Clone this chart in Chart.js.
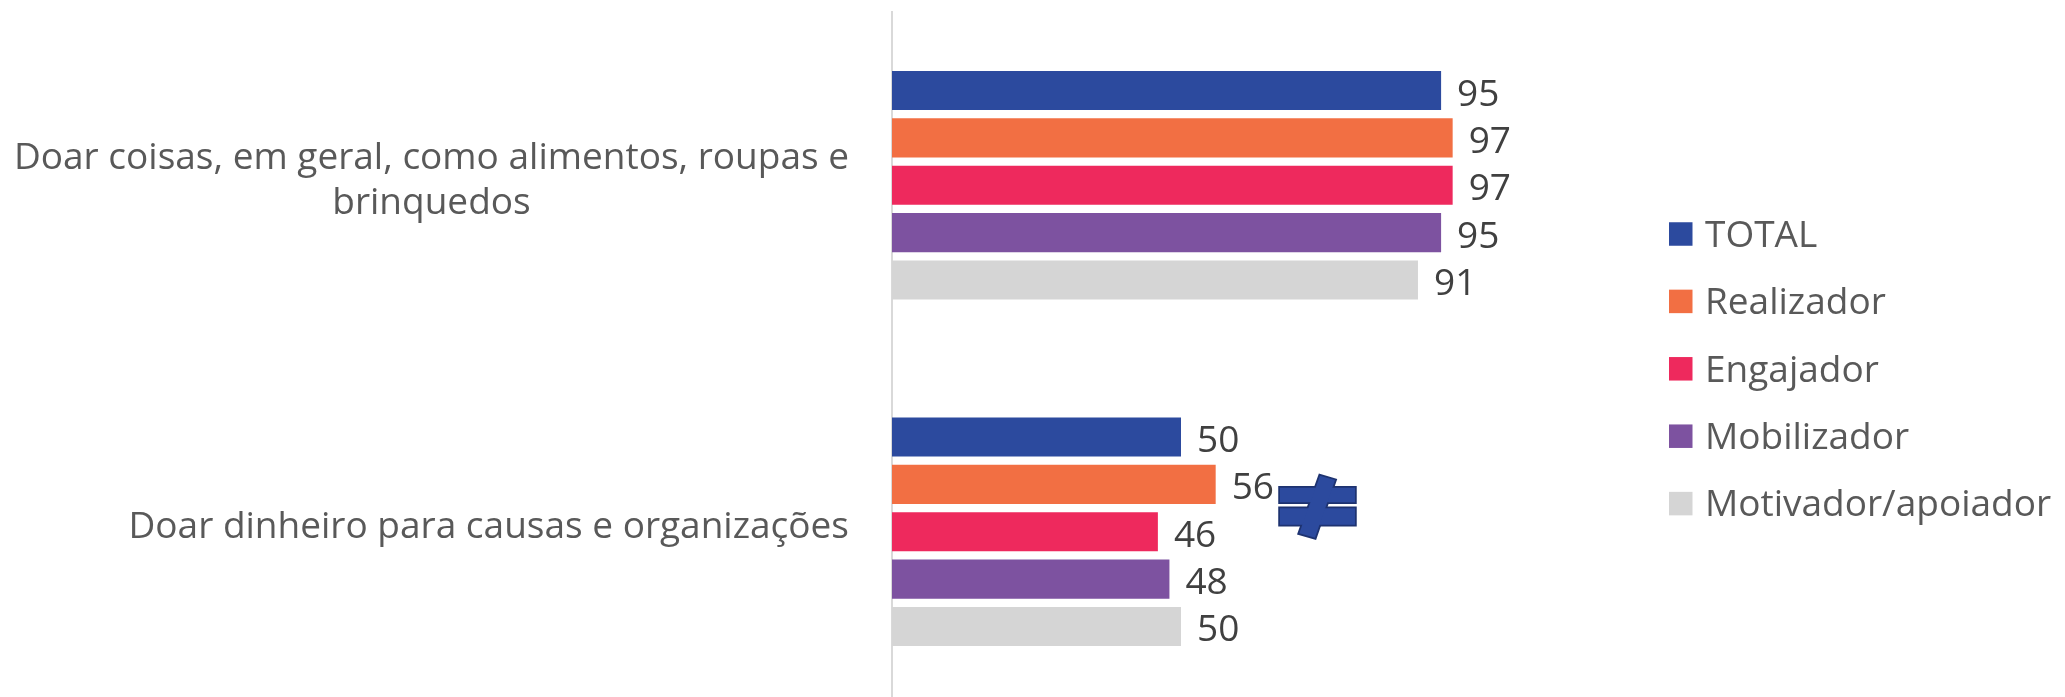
<!DOCTYPE html>
<html>
<head>
<meta charset="utf-8">
<title>Doações</title>
<script src="https://cdn.jsdelivr.net/npm/chart.js@4.4.1/dist/chart.umd.min.js"></script>
<style>
  html, body { margin: 0; padding: 0; background: #ffffff; overflow: hidden; }
  #wrap { position: absolute; left: 0; top: 0; width: 2065px; height: 710px; }
</style>
</head>
<body>
<div id="wrap"><canvas id="chart" width="2065" height="710"></canvas></div>
<script>
// Categories (first one wraps onto two lines)
const categories = [
  ['Doar coisas, em geral, como alimentos, roupas e', 'brinquedos'],
  'Doar dinheiro para causas e organizações'
];

// Series
const seriesNames = ['TOTAL', 'Realizador', 'Engajador', 'Mobilizador', 'Motivador/apoiador'];
const totalValues       = [95, 50];
const realizadorValues  = [97, 56];
const engajadorValues   = [97, 46];
const mobilizadorValues = [95, 48];
const motivadorValues   = [91, 50];

const seriesValues = [totalValues, realizadorValues, engajadorValues, mobilizadorValues, motivadorValues];
const seriesColors = ['#2C4A9E', '#F26F43', '#EE295D', '#7D52A0', '#D5D5D5'];

const FONT_FAMILY = '"Open Sans", Lato, sans-serif';
const TEXT_SIZE = 37;

// Value labels, category labels, legend and the "not equal" mark
const decorations = {
  id: 'decorations',
  afterDatasetsDraw(chart) {
    const ctx = chart.ctx;
    const xs = chart.scales.x;
    const ys = chart.scales.y;
    const area = chart.chartArea;
    ctx.save();
    ctx.font = TEXT_SIZE + 'px ' + FONT_FAMILY;
    ctx.textBaseline = 'alphabetic';

    // values at the end of each bar
    ctx.fillStyle = '#404040';
    ctx.textAlign = 'left';
    chart.data.datasets.forEach((ds, i) => {
      chart.getDatasetMeta(i).data.forEach((bar, j) => {
        ctx.fillText(String(ds.data[j]), bar.x + 16, bar.y + 15);
      });
    });

    // category labels: block right-aligned to the axis, lines centred in the block
    ctx.fillStyle = '#595959';
    ctx.textAlign = 'center';
    const blockRight = area.left - 43;
    const lineHeight = 44.8;
    chart.data.labels.forEach((lab, i) => {
      const lines = Array.isArray(lab) ? lab : [lab];
      const w = Math.max(...lines.map(l => ctx.measureText(l).width));
      const cx = blockRight - w / 2;
      const cy = ys.getPixelForValue(i);
      lines.forEach((l, k) => {
        ctx.fillText(l, cx, cy + 6.5 + (k - (lines.length - 1) / 2) * lineHeight);
      });
    });

    // legend
    const legendX = 1669, legendY = 234, legendStep = 67.4, box = 23.5;
    ctx.textAlign = 'left';
    chart.data.datasets.forEach((ds, i) => {
      const yc = legendY + i * legendStep;
      ctx.fillStyle = ds.backgroundColor;
      ctx.fillRect(legendX, yc - box / 2, box, box);
      ctx.fillStyle = '#595959';
      ctx.fillText(ds.label, legendX + 36, yc + 12.7);
    });

    // "≠" shape beside the second group
    const cx = xs.getPixelForValue(73.7);
    const cy = ys.getPixelForValue(1) - 25;
    const shape = new Path2D();
    shape.rect(cx - 38, cy - 19, 75, 14.6);
    shape.rect(cx - 38, cy + 1.6, 75, 16.5);
    const slash = new Path2D();
    slash.moveTo(cx + 2, cy - 31);
    slash.lineTo(cx + 17, cy - 26.7);
    slash.lineTo(cx - 3, cy + 31);
    slash.lineTo(cx - 18.7, cy + 26.6);
    slash.closePath();
    ctx.strokeStyle = '#1E3370';
    ctx.lineWidth = 3.5;
    ctx.lineJoin = 'miter';
    ctx.stroke(shape);
    ctx.stroke(slash);
    ctx.fillStyle = '#2C4A9E';
    ctx.fill(shape);
    ctx.fill(slash);

    ctx.restore();
  }
};

new Chart(document.getElementById('chart'), {
  type: 'bar',
  data: {
    labels: categories,
    datasets: seriesNames.map((name, i) => ({
      label: name,
      data: seriesValues[i],
      backgroundColor: seriesColors[i],
      borderWidth: 0,
      categoryPercentage: 0.6835,
      barPercentage: 0.824
    }))
  },
  options: {
    indexAxis: 'y',
    responsive: false,
    animation: false,
    devicePixelRatio: 1,
    layout: { padding: { left: 892, right: 595, top: 12, bottom: 5 } },
    plugins: {
      legend: { display: false },
      tooltip: { enabled: false }
    },
    scales: {
      x: { display: false, min: 0, max: 100 },
      y: {
        grid: { display: false, drawTicks: false },
        border: { display: true, color: '#D9D9D9', width: 2 },
        ticks: { display: false }
      }
    }
  },
  plugins: [decorations]
});
</script>
</body>
</html>
